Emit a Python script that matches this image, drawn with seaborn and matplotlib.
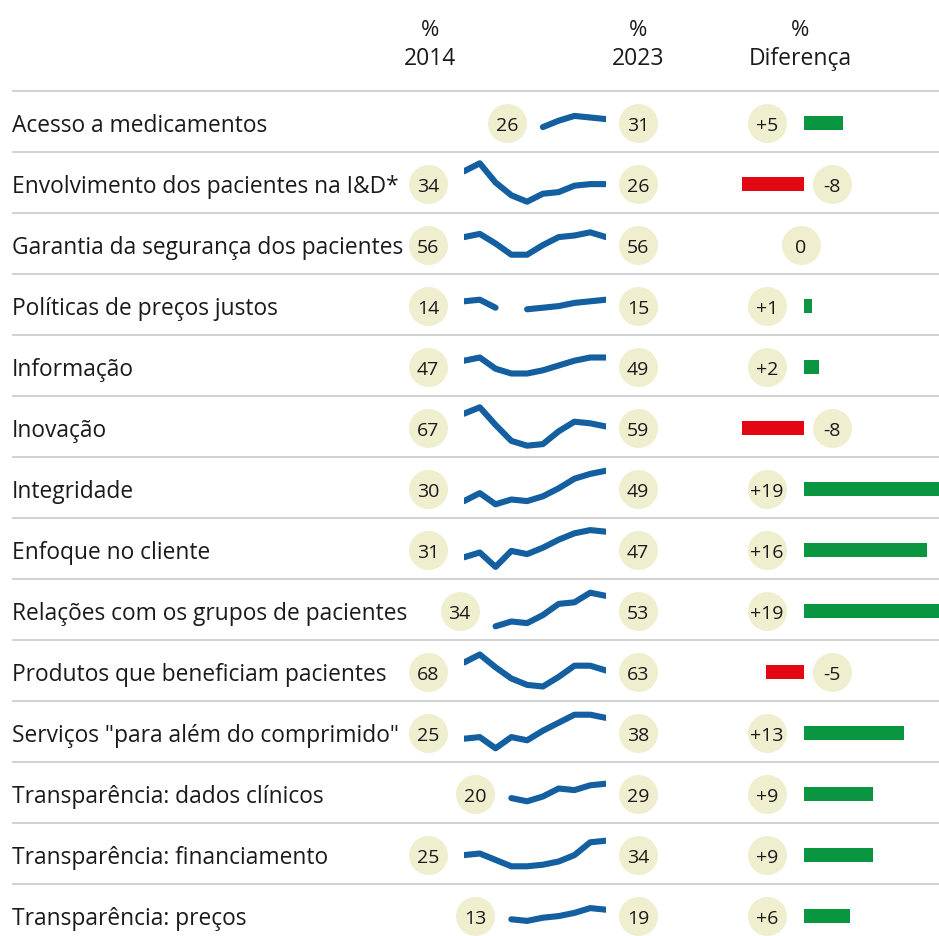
import matplotlib

matplotlib.use("Agg")

import matplotlib.pyplot as plt
import matplotlib.transforms as mtransforms
import numpy as np
import pandas as pd
import seaborn as sns

NA = np.nan

CATEGORIES = [
    "Acesso a medicamentos",
    "Envolvimento dos pacientes na I&D*",
    "Garantia da segurança dos pacientes",
    "Políticas de preços justos",
    "Informação",
    "Inovação",
    "Integridade",
    "Enfoque no cliente",
    "Relações com os grupos de pacientes",
    "Produtos que beneficiam pacientes",
    'Serviços "para além do comprimido"',
    "Transparência: dados clínicos",
    "Transparência: financiamento",
    "Transparência: preços",
]
YEARS = list(range(2014, 2024))

# yearly % values 2014..2023 (NA = not surveyed)
ACESSO = [NA, NA, NA, NA, NA, 26, 30, 33, 32, 31]
ENVOLVIMENTO = [34, 39, 27, 19, 15, 20, 21, 25, 26, 26]
GARANTIA = [56, 58, 52, 45, 45, 51, 56, 57, 59, 56]
PRECOS_JUSTOS = [14, 15, 10, NA, 9, 10, 11, 13, 14, 15]
INFORMACAO = [47, 49, 42, 39, 39, 41, 44, 47, 49, 49]
INOVACAO = [67, 71, 60, 50, 47, 48, 56, 62, 61, 59]
INTEGRIDADE = [30, 35, 28, 31, 30, 33, 38, 44, 47, 49]
ENFOQUE = [31, 34, 25, 35, 33, 37, 42, 46, 48, 47]
RELACOES = [NA, NA, 34, 37, 36, 41, 48, 49, 55, 53]
PRODUTOS = [68, 73, 65, 58, 54, 53, 59, 66, 66, 63]
SERVICOS = [25, 26, 19, 26, 24, 30, 35, 40, 40, 38]
DADOS_CLINICOS = [NA, NA, NA, 20, 18, 21, 26, 25, 28, 29]
FINANCIAMENTO = [25, 26, 22, 18, 18, 19, 21, 25, 33, 34]
PRECOS = [NA, NA, NA, 13, 12, 14, 15, 17, 20, 19]

SERIES = [
    ACESSO, ENVOLVIMENTO, GARANTIA, PRECOS_JUSTOS, INFORMACAO, INOVACAO,
    INTEGRIDADE, ENFOQUE, RELACOES, PRODUTOS, SERVICOS, DADOS_CLINICOS,
    FINANCIAMENTO, PRECOS,
]

# colours
TEXT = "#1a1a1a"
GRID = "#c9c9c9"
BUBBLE = "#efeecf"
BLUE = "#135f9f"
GREEN = "#0a9640"
RED = "#e30613"

# layout in pixels
FIG_W, FIG_H = 939, 937
ROW0, ROW_H = 122.5, 61
SPARK_L, SPARK_R = 464, 606
PX_PER_UNIT = 1.6
DIFF_ZERO, DIFF_PX = 804, 7.7

sns.set_style("white")
plt.rcParams["font.family"] = ["Open Sans", "DejaVu Sans"]


def py(px):
    # pixel row position -> row units
    return (px - ROW0) / ROW_H


n = len(CATEGORIES)
rows = np.arange(n)

fig = plt.figure(figsize=(FIG_W / 100, FIG_H / 100), dpi=100)
ax = fig.add_axes([0, 0, 1, 1])
ax.set_xlim(0, FIG_W)
ax.set_ylim(py(FIG_H), py(0))
ax.axis("off")

# header
for x, label in [(430, "2014"), (638, "2023"), (800, "Diferença")]:
    ax.text(x, py(36), "%", ha="center", va="baseline", fontsize=16, color=TEXT)
    ax.text(x, py(65), label, ha="center", va="baseline", fontsize=16.5, color=TEXT)

# row separators and labels
ax.hlines(rows - 0.5, 12, FIG_W, color=GRID, lw=1.2)
for i, name in enumerate(CATEGORIES):
    ax.text(12, i + 0.15, name, ha="left", va="baseline", fontsize=16.4, color=TEXT)

# 2023 bubbles
last = [pd.Series(s).dropna().iloc[-1] for s in SERIES]
first = [pd.Series(s).dropna().iloc[0] for s in SERIES]
bub_y = rows + 0.025
ax.scatter([638] * n, bub_y, s=790, color=BUBBLE, linewidths=0, zorder=2)
for i, v in enumerate(last):
    ax.text(638, bub_y[i], f"{v:.0f}", ha="center", va="center_baseline",
            fontsize=14, color=TEXT, zorder=3)

# sparklines, one small axes per row
half = ROW_H / PX_PER_UNIT / 2
year_px = (SPARK_R - SPARK_L) / (YEARS[-1] - YEARS[0])
for i, vals in enumerate(SERIES):
    yc = ROW0 + ROW_H * i
    sax = fig.add_axes([
        SPARK_L / FIG_W, 1 - (yc + ROW_H / 2) / FIG_H,
        (SPARK_R - SPARK_L) / FIG_W, ROW_H / FIG_H,
    ])
    df = pd.DataFrame({"year": YEARS, "value": vals})
    df["run"] = df["value"].isna().cumsum()
    df = df.dropna()
    for _, run in df.groupby("run"):
        sns.lineplot(data=run, x="year", y="value", ax=sax, color=BLUE,
                     linewidth=4.4, solid_capstyle="round",
                     solid_joinstyle="round", estimator=None)
    mid = (df["value"].min() + df["value"].max()) / 2
    sax.set_xlim(YEARS[0], YEARS[-1])
    sax.set_ylim(mid - half, mid + half)
    sax.axis("off")

    # 2014 (first available year) bubble
    trans = mtransforms.blended_transform_factory(sax.transData, sax.transAxes)
    x0 = df["year"].iloc[0] - 36 / year_px
    sax.scatter([x0], [0.475], s=790, color=BUBBLE, linewidths=0,
                transform=trans, clip_on=False, zorder=2)
    sax.text(x0, 0.475, f"{first[i]:.0f}", ha="center", va="center_baseline",
             fontsize=14, color=TEXT, transform=trans, zorder=3)

# difference bars
diff = [b - a for a, b in zip(first, last)]
sign = ["pos" if d > 0 else "neg" if d < 0 else "zero" for d in diff]
dax = fig.add_axes([700 / FIG_W, 0, (FIG_W - 700) / FIG_W, 1])
sns.barplot(x=diff, y=rows, hue=sign, orient="h", dodge=False, width=0.23,
            palette={"pos": GREEN, "neg": RED, "zero": GREEN}, saturation=1,
            linewidth=0, legend=False, ax=dax)
dax.set_xlim((700 - DIFF_ZERO) / DIFF_PX, (FIG_W - DIFF_ZERO) / DIFF_PX)
dax.set_ylim(py(FIG_H) - 0.03, py(0) - 0.03)
dax.axis("off")

bx = [-4.8 if d > 0 else 3.6 if d < 0 else -0.4 for d in diff]
dax.scatter(bx, rows, s=790, color=BUBBLE, linewidths=0, zorder=3)
for i, d in enumerate(diff):
    label = f"+{d:.0f}" if d > 0 else f"{d:.0f}"
    dax.text(bx[i], i, label, ha="center", va="center_baseline",
             fontsize=14, color=TEXT, zorder=4)

fig.savefig("out.png", dpi=100)
